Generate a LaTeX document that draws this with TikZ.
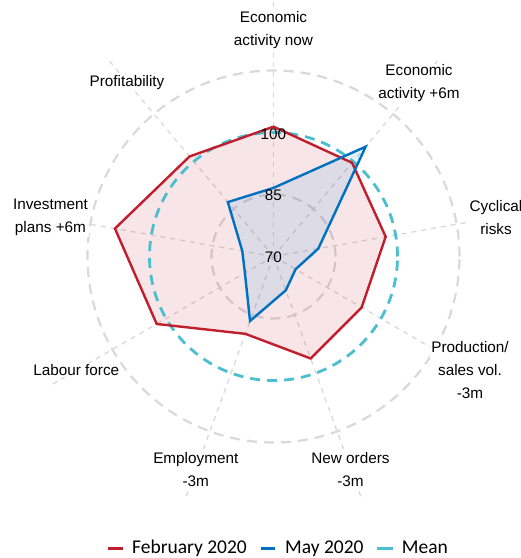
\documentclass[tikz,border=0pt]{standalone}
\usepackage{fontspec}
\setmainfont{Liberation Sans}
\newfontfamily\legendfont{Carlito}
\definecolor{febred}{RGB}{192,30,45}
\definecolor{mayblue}{RGB}{0,112,192}
\definecolor{meancyan}{RGB}{75,190,207}
\definecolor{gridgray}{RGB}{217,217,217}
\definecolor{mayfill}{RGB}{61,161,224}
\tikzset{
  spoke/.style={draw=gridgray, line width=1.3pt, dash pattern=on 5pt off 5pt},
  ring/.style={draw=gridgray, line width=2.2pt, dash pattern=on 10pt off 7pt},
  catlabel/.style={fill=white, inner sep=1pt, align=center, font=\fontsize{15.3}{23}\selectfont},
  numlabel/.style={inner sep=0pt, font=\fontsize{15.3}{18}\selectfont},
  series/.style={line width=2.4pt, line join=miter},
  meanline/.style={draw=meancyan, line width=2.8pt, dash pattern=on 10pt off 7pt},
  legtext/.style={anchor=base west, inner sep=0pt, font=\legendfont\fontsize{19.5}{23}\selectfont},
  legline/.style={line width=3pt},
}
\begin{document}
\begin{tikzpicture}[x=1pt,y=1pt]
\useasboundingbox (-273.5,-301.5) rectangle (247.5,256.5);
\coordinate (C) at (0,0);
% grid
\foreach \a in {90,50,10,-30,-70,-110,-150,170,130}
  \draw[spoke] (C) -- (\a:256);
\draw[ring] (C) circle (62);
\draw[ring] (C) circle (186);
% fills
\fill[febred, opacity=0.115] (90:129.8) -- (50:122.3) -- (10:113.9) -- (-30:101.8) -- (-70:108.5)
  -- (-110:82.3) -- (-150:134.9) -- (170:161) -- (130:130.6) -- cycle;
\fill[mayfill, opacity=0.15] (90:68.6) -- (50:143.4) -- (10:45.5) -- (-30:25.5) -- (-70:36)
  -- (-110:68.6) -- (-150:33) -- (170:31.7) -- (130:71) -- cycle;
% mean
\draw[meanline] (C) circle (124);
% series lines
\draw[series, febred] (90:129.8) -- (50:122.3) -- (10:113.9) -- (-30:101.8) -- (-70:108.5)
  -- (-110:82.3) -- (-150:134.9) -- (170:161) -- (130:130.6) -- cycle;
\draw[series, mayblue] (90:68.6) -- (50:143.4) -- (10:45.5) -- (-30:25.5) -- (-70:36)
  -- (-110:68.6) -- (-150:33) -- (170:31.7) -- (130:71) -- cycle;
% axis value labels
\node[numlabel] (v100) at (0,122.5) {100};
\node[numlabel] (v85) at (0,61.5) {85};
\node[numlabel] (v70) at (0,-0.5) {70};
% category labels
\node[catlabel] (l1) at (0,226) {Economic\\activity now};
\node[catlabel] (l2) at (145.5,173) {Economic\\activity +6m};
\node[catlabel] (l3) at (222.5,39) {Cyclical\\risks};
\node[catlabel] (l4) at (196.5,-113.8) {Production/\\sales vol.\\-3m};
\node[catlabel] (l5) at (77,-213.5) {New orders\\-3m};
\node[catlabel] (l6) at (-77.7,-213.5) {Employment\\-3m};
\node[catlabel] (l7) at (-197.2,-113.5) {Labour force};
\node[catlabel] (l8) at (-223,39) {Investment\\plans +6m};
\node[catlabel] (l9) at (-146.5,173.5) {Profitability};
% legend
\coordinate (r1) at (-165.5,-291.5); \coordinate (r2) at (-150.5,-291.5);
\draw[legline, febred] (r1) -- (r2);
\node[legtext] (t1) at (-141.5,-296.8) {February 2020};
\coordinate (b1) at (-12.8,-291.5); \coordinate (b2) at (1.5,-291.5);
\draw[legline, mayblue] (b1) -- (b2);
\node[legtext] (t2) at (11.5,-296.8) {May 2020};
\coordinate (c1) at (103.2,-291.5); \coordinate (c2) at (119.2,-291.5);
\draw[legline, meancyan] (c1) -- (c2);
\node[legtext] (t3) at (128.2,-296.8) {Mean};
\end{tikzpicture}
\end{document}
